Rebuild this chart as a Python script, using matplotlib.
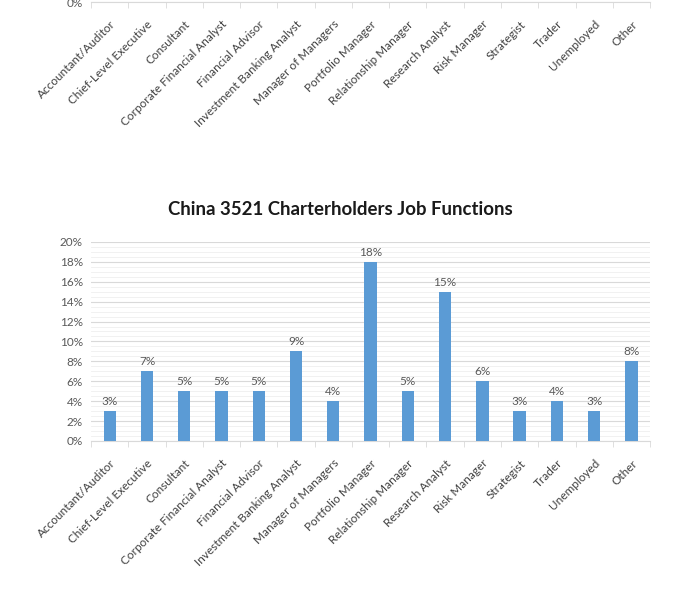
import numpy as np
import matplotlib
matplotlib.use('Agg')
import matplotlib.pyplot as plt
import matplotlib.transforms as mtransforms
from matplotlib.ticker import PercentFormatter, MultipleLocator, FixedLocator

categories = ['Accountant/Auditor', 'Chief-Level Executive', 'Consultant',
              'Corporate Financial Analyst', 'Financial Advisor',
              'Investment Banking Analyst', 'Manager of Managers',
              'Portfolio Manager', 'Relationship Manager', 'Research Analyst',
              'Risk Manager', 'Strategist', 'Trader', 'Unemployed', 'Other']
shares = [3, 7, 5, 5, 5, 9, 4, 18, 5, 15, 6, 3, 4, 3, 8]
title = 'China 3521 Charterholders Job Functions'

plt.rcParams['font.family'] = ['Lato', 'DejaVu Sans']

bar_color = '#5b9bd5'
text_gray = '#595959'
grid_gray = '#d9d9d9'

fig = plt.figure(figsize=(6.75, 5.89), dpi=100)
x = np.arange(len(categories))
vals = np.array(shares) / 100


def style_axis(ax):
    ax.set_xlim(-0.5, len(categories) - 0.5)
    ax.set_ylim(0, 0.20)
    ax.yaxis.set_major_locator(MultipleLocator(0.02))
    ax.yaxis.set_minor_locator(MultipleLocator(0.005))
    ax.yaxis.set_major_formatter(PercentFormatter(1.0, decimals=0))
    ax.grid(axis='y', which='major', color=grid_gray, linewidth=0.8)
    ax.grid(axis='y', which='minor', color='#efefef', linewidth=0.6)
    ax.set_axisbelow(True)
    for s in ['top', 'right', 'left']:
        ax.spines[s].set_visible(False)
    ax.spines['bottom'].set_color(grid_gray)
    ax.set_xticks(x)
    ax.set_xticklabels(categories, rotation=45, ha='right',
                       rotation_mode='anchor', fontsize=8.5, color='#404040')
    # nudge labels a little right, like the Excel original
    shift = mtransforms.ScaledTranslation(6 / 100, 0, fig.dpi_scale_trans)
    for lbl in ax.get_xticklabels():
        lbl.set_transform(lbl.get_transform() + shift)
    ax.xaxis.set_minor_locator(FixedLocator(np.arange(-0.5, len(categories), 1)))
    ax.tick_params(axis='x', which='major', length=0, pad=12)
    ax.tick_params(axis='x', which='minor', length=4, color=grid_gray)
    ax.tick_params(axis='y', which='both', length=0, labelsize=8.5,
                   labelcolor=text_gray, pad=6)


# remnant of the chart above, cut off by the screenshot
ax_top = fig.add_axes([0.135, 0.9966, 0.828, 0.34])
style_axis(ax_top)
ax_top.set_yticks([0])

# main chart
ax = fig.add_axes([0.135, 0.2513, 0.828, 0.338])
style_axis(ax)
bars = ax.bar(x, vals, width=0.33, color=bar_color, zorder=3)
for xi, v, s in zip(x, vals, shares):
    ax.text(xi, v + 0.004, f'{s}%', ha='center', va='bottom',
            fontsize=8.5, color=text_gray)

fig.text(0.504, 0.6435, title, ha='center', va='center',
         fontsize=13.4, fontweight='bold', color='#1a1a1a')

fig.savefig('out.png', dpi=100, facecolor='white')
